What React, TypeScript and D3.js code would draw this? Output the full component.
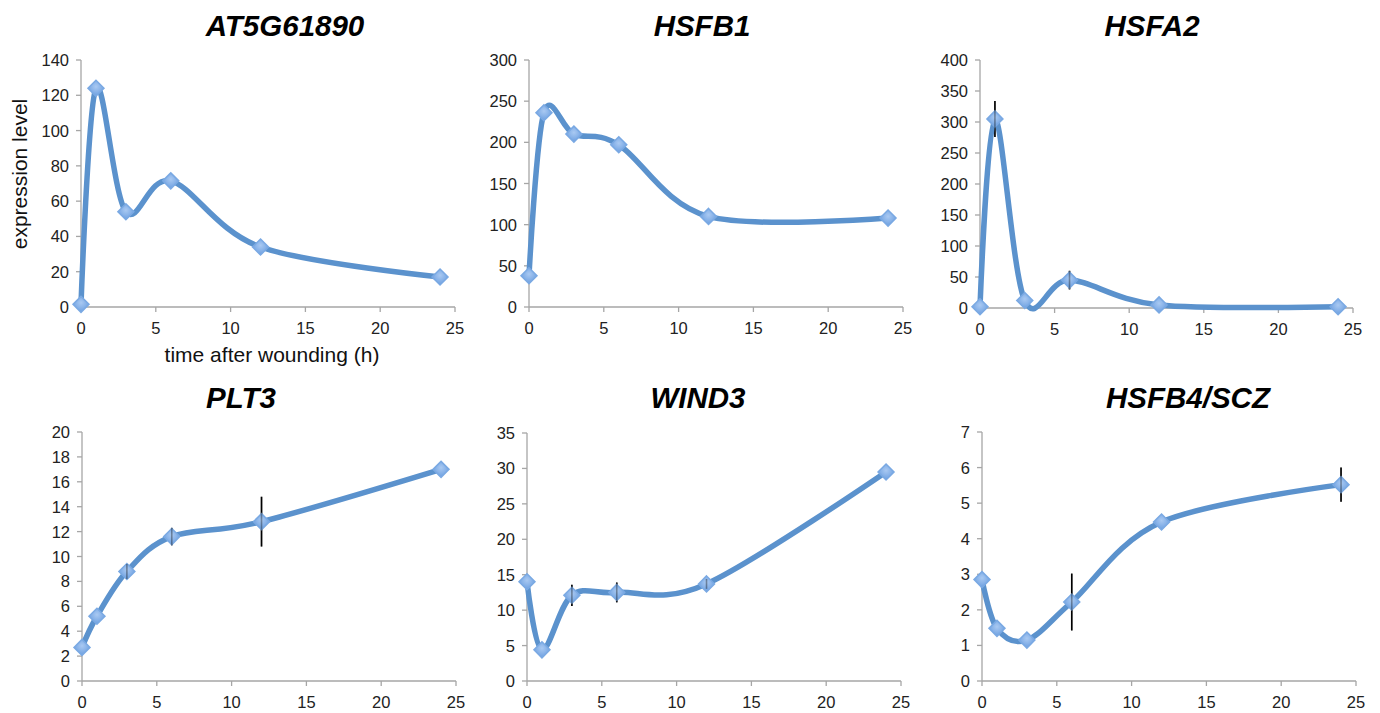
import React from "react";
import * as d3 from "d3";

const hours = [0, 1, 3, 6, 12, 24];
const geneNames = ["AT5G61890", "HSFB1", "HSFA2", "PLT3", "WIND3", "HSFB4/SCZ"];
const at5g61890 = [1.5, 124, 54, 71.5, 34, 17];
const at5g61890Err = [0, 0, 0, 0, 0, 0];
const hsfb1 = [38, 236, 210, 197, 110, 108];
const hsfb1Err = [0, 0, 0, 0, 0, 0];
const hsfa2 = [2, 305, 12, 45, 5, 2];
const hsfa2Err = [0, 29, 0, 15, 0, 0];
const plt3 = [2.7, 5.2, 8.8, 11.6, 12.8, 17];
const plt3Err = [0, 0, 0.6, 0.7, 2.0, 0];
const wind3 = [14, 4.4, 12.1, 12.5, 13.7, 29.5];
const wind3Err = [0, 0, 1.5, 1.4, 0.7, 0];
const hsfb4 = [2.85, 1.48, 1.15, 2.22, 4.47, 5.52];
const hsfb4Err = [0, 0, 0, 0.8, 0, 0.48];
const yMaxes = [140, 300, 400, 20, 35, 7];
const yStepList = [20, 50, 50, 2, 5, 1];
const xTicks = [0, 5, 10, 15, 20, 25];
const yLabel = "expression level";
const xLabel = "time after wounding (h)";

const seriesList = [at5g61890, hsfb1, hsfa2, plt3, wind3, hsfb4];
const errList = [at5g61890Err, hsfb1Err, hsfa2Err, plt3Err, wind3Err, hsfb4Err];

// panel geometry: axis left x, axis right x, top y, bottom y
const layout = [
  { l: 81, r: 455, t: 60, b: 307 },
  { l: 529, r: 903, t: 60, b: 307 },
  { l: 980, r: 1353, t: 60, b: 308 },
  { l: 82, r: 456, t: 432, b: 681 },
  { l: 527, r: 901, t: 433, b: 681 },
  { l: 982, r: 1356, t: 432, b: 681 },
];
const titleX = [285, 702, 1152, 241, 698, 1188];

const FONT = "'Liberation Sans', Arial, Helvetica, sans-serif";
const LINE = "#5b92cd";
const AXIS = "#a6a6a6";

function Panel({ i }: { i: number }) {
  const g = layout[i];
  const x = d3.scaleLinear().domain([0, 25]).range([g.l, g.r]);
  const y = d3.scaleLinear().domain([0, yMaxes[i]]).range([g.b, g.t]);
  const vals = seriesList[i];
  const errs = errList[i];
  const pts: [number, number][] = hours.map((h, k) => [x(h), y(vals[k])]);
  const line = d3.line().curve(d3.curveCardinal.tension(0))(pts) || "";
  const yTicks = d3.range(0, yMaxes[i] + yStepList[i] / 2, yStepList[i]);
  const s = 8;
  return (
    <g>
      <text x={titleX[i]} y={i < 3 ? 36 : 408} textAnchor="middle" fontFamily={FONT}
        fontWeight="bold" fontStyle="italic" fontSize={29.5} fill="#000">{geneNames[i]}</text>
      <line x1={g.l} x2={g.l} y1={g.t} y2={g.b} stroke={AXIS} strokeWidth={1.3} />
      <line x1={g.l} x2={g.r} y1={g.b} y2={g.b} stroke={AXIS} strokeWidth={1.3} />
      {yTicks.map((v) => (
        <g key={"y" + v}>
          <line x1={g.l - 5} x2={g.l} y1={y(v)} y2={y(v)} stroke={AXIS} strokeWidth={1.3} />
          <text x={g.l - 12} y={y(v) + 6} textAnchor="end" fontFamily={FONT} fontSize={16.5} fill="#222">{v}</text>
        </g>
      ))}
      {xTicks.map((v) => (
        <g key={"x" + v}>
          <line x1={x(v)} x2={x(v)} y1={g.b} y2={g.b + 5} stroke={AXIS} strokeWidth={1.3} />
          <text x={x(v)} y={g.b + 27} textAnchor="middle" fontFamily={FONT} fontSize={16.5} fill="#222">{v}</text>
        </g>
      ))}
      {hours.map((h, k) =>
        errs[k] > 0 ? (
          <line key={"e" + k} x1={x(h)} x2={x(h)} y1={y(vals[k] + errs[k])} y2={y(vals[k] - errs[k])}
            stroke="#000" strokeWidth={1.6} />
        ) : null
      )}
      <path d={line} fill="none" stroke={LINE} strokeWidth={5.5} strokeLinejoin="round" strokeLinecap="round" />
      {pts.map(([px, py], k) => (
        <path key={"m" + k}
          d={`M${px},${py - s}L${px + s},${py}L${px},${py + s}L${px - s},${py}Z`}
          fill="url(#mk)" stroke="#7aa9e3" strokeWidth={1.5} />
      ))}
      {hours.map((h, k) =>
        errs[k] > 0 ? (
          <line key={"e2" + k} x1={x(h)} x2={x(h)} y1={y(vals[k] + errs[k])} y2={y(vals[k] - errs[k])}
            stroke="#000" strokeWidth={1.6} opacity={0.35} />
        ) : null
      )}
    </g>
  );
}

export default function App() {
  return (
    <svg width={1380} height={713} style={{ position: "absolute", left: 0, top: 0, background: "#fff" }}>
      <defs>
        <radialGradient id="mk" cx="50%" cy="40%" r="60%">
          <stop offset="0%" stopColor="#a9c9f2" />
          <stop offset="100%" stopColor="#6c9fe0" />
        </radialGradient>
      </defs>
      <rect x={0} y={0} width={1380} height={713} fill="#fff" />
      {geneNames.map((_, i) => <Panel key={i} i={i} />)}
      <text transform="translate(27,174) rotate(-90)" textAnchor="middle" fontFamily={FONT} fontSize={21} fill="#111">{yLabel}</text>
      <text x={272} y={362} textAnchor="middle" fontFamily={FONT} fontSize={21} fill="#111">{xLabel}</text>
    </svg>
  );
}
